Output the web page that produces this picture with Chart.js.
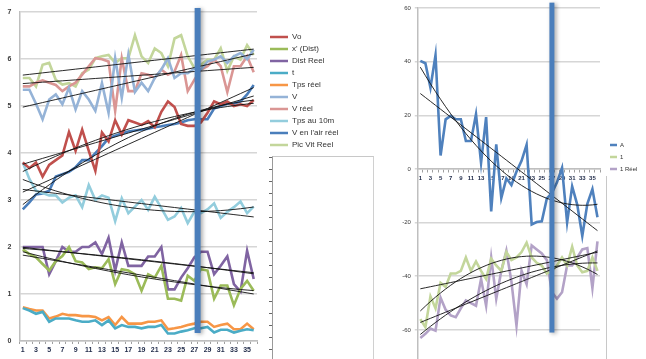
<!DOCTYPE html>
<html>
<head>
<meta charset="utf-8">
<script src="https://cdn.jsdelivr.net/npm/chart.js@4.4.0/dist/chart.umd.min.js"></script>
<style>
html,body{margin:0;padding:0;width:646px;height:359px;overflow:hidden;background:#fff;}
#wrapL{position:absolute;left:0;top:0;width:372px;height:359px;z-index:1;}
#wrapR{position:absolute;left:372px;top:0;width:274px;height:400px;z-index:1;}
#box{position:absolute;left:272px;top:156px;width:100px;height:220px;border-left:1px solid #9a9a9a;border-top:1px solid #c8c8c8;border-right:1px solid #d0d0d0;background:#fff;z-index:2;}
#ticks{position:absolute;left:269px;top:157px;width:3px;height:210px;background:repeating-linear-gradient(to bottom,#666 0,#666 1px,transparent 1px,transparent 12px);z-index:3;}
#lineR{position:absolute;left:606px;top:176px;width:1px;height:200px;background:#c8c8c8;z-index:0;}
</style>
</head>
<body>
<div id="lineR"></div>
<div id="wrapL"><canvas id="cL" width="372" height="359"></canvas></div>
<div id="box"></div>
<div id="ticks"></div>
<div id="wrapR"><canvas id="cR" width="274" height="400"></canvas></div>
<script>
// ---------- data ----------
const categories = ['1','2','3','4','5','6','7','8','9','10','11','12','13','14','15','16','17','18','19','20','21','22','23','24','25','26','27','28','29','30','31','32','33','34','35','36'];
const xTickLabels = ['1','3','5','7','9','11','13','15','17','19','21','23','25','27','29','31','33','35'];

// left chart series
const vo       = [3.8,3.68,3.8,3.5,3.75,3.85,3.95,4.45,4.05,4.5,4.05,3.62,4.44,4.25,4.7,4.4,4.7,4.65,4.6,4.68,4.55,4.88,5.1,4.98,4.62,4.58,4.58,4.65,4.86,5.1,5.04,5.1,5.0,5.04,5.0,5.13];
const xDist    = [1.95,1.85,1.78,1.64,1.5,1.7,1.81,2.0,1.7,1.67,1.53,1.57,1.55,1.74,1.21,1.53,1.5,1.42,1.07,1.42,1.35,1.6,0.9,0.9,0.86,1.39,1.28,1.53,1.5,0.9,1.18,1.18,0.76,1.11,1.28,1.07];
const distReel = [2.0,2.0,2.0,2.0,1.42,1.7,2.0,1.9,1.9,2.0,2.0,2.1,1.85,2.2,1.5,2.1,1.6,1.6,1.6,1.8,1.8,2.0,1.1,1.1,1.35,1.55,1.78,1.9,1.9,1.42,1.6,1.8,1.21,1.05,1.92,1.32];
const tSeries  = [0.7,0.65,0.58,0.62,0.41,0.48,0.48,0.48,0.44,0.41,0.41,0.44,0.34,0.44,0.27,0.34,0.3,0.3,0.27,0.3,0.3,0.34,0.16,0.16,0.2,0.23,0.27,0.27,0.3,0.18,0.24,0.24,0.18,0.22,0.25,0.23];
const tpsReel  = [0.72,0.68,0.65,0.65,0.48,0.52,0.58,0.55,0.55,0.53,0.53,0.51,0.44,0.51,0.34,0.51,0.37,0.37,0.37,0.41,0.41,0.44,0.25,0.27,0.3,0.34,0.37,0.41,0.41,0.3,0.34,0.37,0.25,0.25,0.37,0.25];
const vSpeed   = [5.35,5.35,5.05,4.72,5.14,5.25,5.04,5.39,4.93,5.32,5.14,4.9,5.49,4.86,6.02,5.18,6.1,5.3,5.5,5.32,5.6,5.78,6.02,5.6,5.7,5.7,5.8,5.78,5.95,5.99,6.06,5.92,6.06,6.13,6.0,6.2];
const vReel    = [5.42,5.42,5.5,5.55,5.5,5.45,5.32,5.42,5.5,5.67,5.85,6.02,6.0,5.95,4.9,6.02,5.32,5.32,5.7,5.67,5.6,5.78,5.67,5.74,6.09,5.32,5.56,5.78,5.85,5.99,5.85,5.3,5.85,5.85,6.06,5.72];
const tps10m   = [3.8,3.45,3.2,3.15,3.1,3.1,2.95,3.05,3.1,2.85,3.32,3.0,3.1,3.05,2.55,3.04,2.72,2.86,3.0,2.79,3.07,2.83,2.58,2.65,2.83,2.51,2.75,2.72,2.8,2.93,2.62,2.75,2.85,2.97,2.72,2.86];
const vAir     = [2.8,2.95,3.12,3.14,3.2,3.5,3.55,3.6,3.7,3.85,3.85,4.0,4.15,4.32,4.37,4.42,4.46,4.48,4.5,4.52,4.55,4.57,4.6,4.62,4.65,4.7,4.72,4.72,4.72,4.95,5.0,5.05,5.05,5.1,5.25,5.45];
const picVit   = [5.6,5.6,5.42,5.88,5.92,5.56,5.46,5.49,5.42,5.7,5.78,6.02,6.06,6.09,5.92,6.02,6.02,6.51,6.06,5.92,6.23,6.13,5.85,6.44,6.51,6.06,5.81,5.88,5.99,5.99,6.23,5.75,6.06,5.99,6.3,6.09];
const leftNames = ['Vo',"x' (Dist)",'Dist Reel','t','Tps réel','V','V réel','Tps au 10m',"V en l'air réel",'Pic Vit Reel'];
const leftData  = [vo,xDist,distReel,tSeries,tpsReel,vSpeed,vReel,tps10m,vAir,picVit];
const leftTrendDegrees = [[1,2],[1,2],[1,2],[],[],[1],[1],[1,2],[1,2],[1]];

// right chart series
const seriesA     = [40.3,39.4,30.3,42.4,5.0,18.5,19.8,18.5,18.5,10.4,10.4,20.4,2.3,19.3,-15.8,9.2,-10.8,-3.5,-6,-1,3,9,-20.7,-19.8,-19.5,-11,-9,-5,0.4,-20,-6.5,-13.3,-25,-13,-7.5,-18];
const series1     = [-56,-59,-47.5,-52,-42.5,-44,-39,-39,-38,-33,-38,-34.5,-38,-41,-33.5,-36,-38,-31,-34,-33,-31,-27.5,-33,-35,-36,-39,-38,-36,-33,-36,-29,-36,-38.5,-38,-33,-38];
const series1Reel = [-63,-61.5,-59.5,-60.3,-48,-52.5,-54.6,-55.3,-52,-49,-50,-51,-41,-51,-33,-48.4,-38,-30.5,-42,-58.4,-38,-43,-28.5,-30,-31.5,-34,-46,-48.4,-46,-36,-36,-33,-30,-29.5,-44.4,-27];
const rightNames = ['A','1','1 Réel'];
const rightData  = [seriesA,series1,series1Reel];
const rightTrendDegrees = [[1,2],[1,2],[1,2]];

// vertical marker bars: [category index, low value, high value]
const markerLeft  = [26.5, 0.17, 7.09];
const markerRight = [26, -61, 62];

// ---------- styles ----------
const leftColors  = ['#C0504D','#9BBB59','#8064A2','#4BACC6','#F79646','#95B3D7','#DA9694','#93CDDD','#4A7EBB','#C3D69B'];
const rightColors = ['#4F81BD','#C3D69B','#B3A2C7'];

// least-squares polynomial trendline (as Excel computes it from the series)
function trend(values, degree){
  const n = degree + 1;
  const M = [];
  for (let r=0;r<n;r++){ M.push(new Array(n+1).fill(0)); }
  values.forEach((y,k)=>{
    const x = k+1;
    for (let r=0;r<n;r++){
      for (let c=0;c<n;c++) M[r][c] += Math.pow(x,r+c);
      M[r][n] += Math.pow(x,r)*y;
    }
  });
  for (let i=0;i<n;i++){
    let p=i;
    for (let r=i+1;r<n;r++) if (Math.abs(M[r][i])>Math.abs(M[p][i])) p=r;
    const tmp=M[i]; M[i]=M[p]; M[p]=tmp;
    for (let r=0;r<n;r++){
      if (r===i) continue;
      const f = M[r][i]/M[i][i];
      for (let c=i;c<=n;c++) M[r][c] -= f*M[i][c];
    }
  }
  const coef = M.map((row,i)=>row[n]/row[i]);
  return values.map((_,k)=>coef.reduce((s,c,i)=>s + c*Math.pow(k+1,i),0));
}

function buildDatasets(names, data, colors, degrees, width){
  const ds = [];
  names.forEach((name,i)=>{
    ds.push({label:name, data:data[i], borderColor:colors[i], backgroundColor:colors[i],
      borderWidth:width, pointRadius:0, tension:0, order:i, fill:false});
  });
  names.forEach((name,i)=>{
    degrees[i].forEach(d=>{
      ds.push({label:name+' trend'+d, data:trend(data[i],d), borderColor:'#111', borderWidth:0.9,
        pointRadius:0, tension:0, order:-1, isTrend:true, fill:false});
    });
  });
  return ds;
}

Chart.defaults.font.family = "'Liberation Sans', Arial, sans-serif";
Chart.defaults.animation = false;

const legendPlace = {
  id:'legendPlace',
  afterLayout(chart, args, opts){
    const lg = chart.legend;
    if (!lg || opts.left === undefined) return;
    const w = lg.width, h = lg.height;
    lg.left = opts.left; lg.right = opts.left + w;
    lg.top = opts.top; lg.bottom = opts.top + h;
  }
};

const markerPlugin = {
  id:'markerBar',
  afterDatasetsDraw(chart, args, opts){
    if (!opts.bar) return;
    const {ctx} = chart; const xs = chart.scales.x, ys = chart.scales.y;
    const cx = xs.getPixelForValue(opts.bar[0]);
    const y1 = ys.getPixelForValue(opts.bar[2]);
    const y2 = ys.getPixelForValue(opts.bar[1]);
    ctx.save();
    ctx.shadowColor = 'rgba(0,0,0,0.35)';
    ctx.shadowBlur = 4; ctx.shadowOffsetX = 2; ctx.shadowOffsetY = 1;
    ctx.fillStyle = opts.color;
    ctx.fillRect(cx - opts.width/2, y1, opts.width, y2 - y1);
    ctx.restore();
  }
};

const tickCb = function(val, idx){ const l = categories[idx]; return xTickLabels.includes(l) ? l : ''; };

// ---------- left chart ----------
new Chart(document.getElementById('cL'), {
  type:'line',
  data:{labels:categories, datasets:buildDatasets(leftNames,leftData,leftColors,leftTrendDegrees,2.6)},
  plugins:[legendPlace, markerPlugin],
  options:{
    responsive:false, devicePixelRatio:1,
    layout:{padding:{left:0,top:8,right:115,bottom:0}},
    scales:{
      x:{offset:true,
        grid:{display:true,drawOnChartArea:false,drawTicks:true,tickLength:3,color:'#a0a0a0',offset:true},
        border:{display:true,color:'#bfbfbf',width:1.5},
        ticks:{autoSkip:false,maxRotation:0,minRotation:0,padding:2,color:'#1f2a48',font:{size:7,weight:'bold'},callback:tickCb},
        afterFit(s){ s.height = 18; }
      },
      y:{min:0,max:7,
        grid:{color:'#d6d6d6',lineWidth:1.5,drawTicks:false},
        border:{display:true,color:'#bfbfbf',width:1.5},
        ticks:{stepSize:1,padding:8,color:'#3a3a3a',font:{size:7,weight:'bold'}},
        afterFit(s){ s.width = 19.5; }
      }
    },
    plugins:{
      legend:{position:'chartArea',align:'start',
        labels:{usePointStyle:true,pointStyle:'line',pointStyleWidth:18,boxHeight:8,padding:4,color:'#333',font:{size:8},
          filter:(item,data)=>!data.datasets[item.datasetIndex].isTrend}},
      legendPlace:{left:266,top:29},
      markerBar:{bar:markerLeft,color:'#4A7EBB',width:6},
      tooltip:{enabled:false}
    }
  }
});

// ---------- right chart ----------
new Chart(document.getElementById('cR'), {
  type:'line',
  data:{labels:categories, datasets:buildDatasets(rightNames,rightData,rightColors,rightTrendDegrees,2.6)},
  plugins:[legendPlace, markerPlugin],
  options:{
    responsive:false, devicePixelRatio:1,
    layout:{padding:{left:0,top:8,right:46,bottom:16.5}},
    scales:{
      x:{offset:true, position:{y:0},
        grid:{display:true,drawOnChartArea:false,drawTicks:true,tickLength:3,color:'#a0a0a0',offset:true},
        border:{display:true,color:'#bfbfbf',width:1.5},
        ticks:{autoSkip:false,maxRotation:0,minRotation:0,padding:3,color:'#1f2a48',font:{size:6,weight:'bold'},callback:tickCb}
      },
      y:{min:-80,max:60,
        grid:{color:'#d6d6d6',lineWidth:1.5,drawTicks:true,tickLength:3},
        border:{display:true,color:'#bfbfbf',width:1.5},
        ticks:{stepSize:20,padding:4,color:'#3a3a3a',font:{size:6}},
        afterFit(s){ s.width = 45.8; }
      }
    },
    plugins:{
      legend:{position:'chartArea',align:'start',
        labels:{usePointStyle:true,pointStyle:'line',pointStyleWidth:7,boxHeight:6,padding:6,color:'#333',font:{size:6},
          filter:(item,data)=>!data.datasets[item.datasetIndex].isTrend}},
      legendPlace:{left:232,top:136},
      markerBar:{bar:markerRight,color:'#4A7EBB',width:5},
      tooltip:{enabled:false}
    }
  }
});
</script>
</body>
</html>
